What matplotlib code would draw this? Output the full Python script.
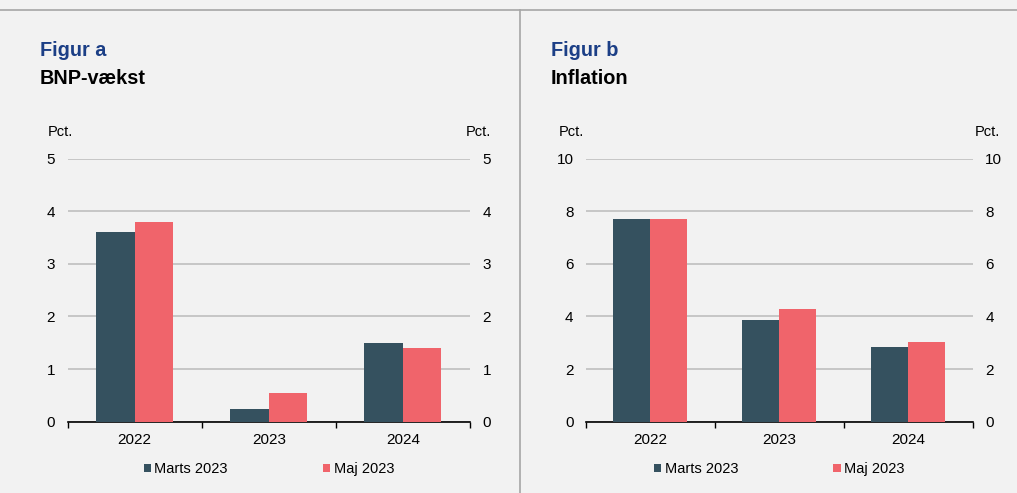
import numpy as np
import matplotlib
matplotlib.use("Agg")
import matplotlib.pyplot as plt
from matplotlib.lines import Line2D

plt.rcParams['font.family'] = ['Liberation Sans', 'DejaVu Sans']

years = ['2022', '2023', '2024']
series_names = ['Marts 2023', 'Maj 2023']

bnp_marts = [3.6, 0.24, 1.5]
bnp_maj = [3.8, 0.55, 1.4]

infl_marts = [7.7, 3.85, 2.83]
infl_maj = [7.7, 4.3, 3.02]

DARK = '#35515f'
RED = '#f0646b'
BLUE = '#1c3f86'
BG = '#f2f2f2'

W, H = 1017, 493
fig = plt.figure(figsize=(W / 100, H / 100), dpi=100, facecolor=BG)


def px(x, y):
    # pixel coords (top-left origin) -> figure fraction
    return x / W, 1 - y / H


def panel(rect, marts, maj, ymax, step):
    ax = fig.add_axes(rect)
    ax.set_facecolor(BG)
    x = np.arange(len(years))
    w = 0.287
    b1 = ax.bar(x - w / 2, marts, w, color=DARK, zorder=3, label=series_names[0])
    b2 = ax.bar(x + w / 2, maj, w, color=RED, zorder=3, label=series_names[1])
    ax.set_xlim(-0.5, len(years) - 0.5)
    ax.set_ylim(0, ymax)
    ax.set_yticks(np.arange(0, ymax + 0.01, step))
    ax.yaxis.grid(True, color='#bfbfbf', lw=1.2, zorder=0)
    ax.set_axisbelow(True)
    for s in ['left', 'right', 'top']:
        ax.spines[s].set_visible(False)
    ax.spines['bottom'].set_color('black')
    ax.spines['bottom'].set_linewidth(1.2)
    ax.set_xticks(x)
    ax.set_xticklabels(years)
    ax.set_xticks(np.arange(-0.5, len(years)), minor=True)
    ax.tick_params(axis='x', which='major', length=0, pad=8, labelsize=11)
    ax.tick_params(axis='x', which='minor', length=4, width=1, color='black', direction='out')
    ax.tick_params(axis='y', left=False, right=False, labelleft=True, labelright=True,
                   length=0, pad=9, labelsize=11)
    ax.legend(handles=[b1, b2], loc='center', bbox_to_anchor=(0.5, -0.18),
              ncol=2, frameon=False, fontsize=10.5, handlelength=0.5,
              handleheight=0.5, handletextpad=0.25, columnspacing=6.5)
    return ax


panel([67.7 / W, 71.3 / H, 402.3 / W, 263 / H], bnp_marts, bnp_maj, 5, 1)
panel([586 / W, 71.3 / H, 386.7 / W, 263 / H], infl_marts, infl_maj, 10, 2)

# frame lines
fig.add_artist(Line2D([0, 1], [px(0, 10)[1]] * 2, color='#a6a6a6', lw=1.2))
fig.add_artist(Line2D([px(520, 0)[0]] * 2, [0, px(0, 10)[1]], color='#a6a6a6', lw=1.2))

# titles
fig.text(*px(40, 50), 'Figur a', color=BLUE, fontsize=14.3, fontweight='bold', va='center')
fig.text(*px(40, 79), 'BNP-vækst', color='black', fontsize=14.3, fontweight='bold', va='center')
fig.text(*px(551, 50), 'Figur b', color=BLUE, fontsize=14.3, fontweight='bold', va='center')
fig.text(*px(551, 79), 'Inflation', color='black', fontsize=14.3, fontweight='bold', va='center')

# unit labels
fig.text(*px(48, 132), 'Pct.', fontsize=10.5, va='center')
fig.text(*px(491, 132), 'Pct.', fontsize=10.5, va='center', ha='right')
fig.text(*px(559, 132), 'Pct.', fontsize=10.5, va='center')
fig.text(*px(1000, 132), 'Pct.', fontsize=10.5, va='center', ha='right')

fig.savefig('out.png', dpi=100, facecolor=BG)
